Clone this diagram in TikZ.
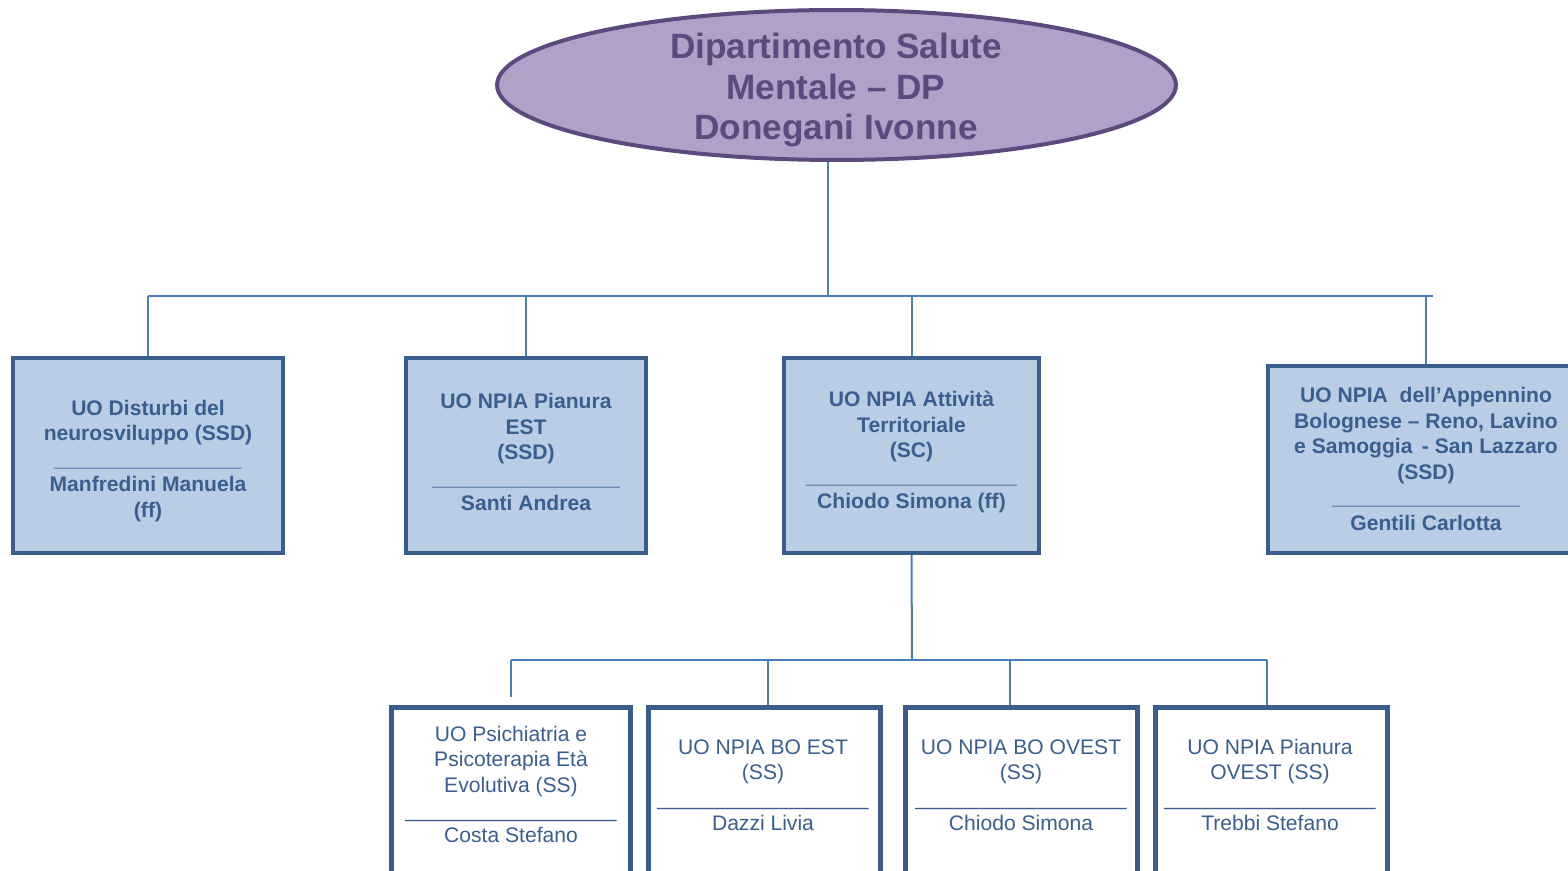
\documentclass[tikz,border=0pt]{standalone}
\usepackage{fontspec}
\setmainfont{Liberation Sans}
\usetikzlibrary{shapes.geometric,positioning}
\definecolor{dsmfill}{HTML}{B1A0C7}
\definecolor{dsmline}{HTML}{5C4A7E}
\definecolor{unitfill}{HTML}{B9CDE5}
\definecolor{unitline}{HTML}{3A5D8B}
\definecolor{unittext}{HTML}{3A5F8F}
\definecolor{connline}{HTML}{4A7EBB}
\tikzset{
  conn/.style={draw, connline, line width=0.04cm},
}
\newcommand{\sepsix}{\_\_\_\_\_\_\_\_\_\_\_\_\_\_\_\_}
\newcommand{\sepeight}{\_\_\_\_\_\_\_\_\_\_\_\_\_\_\_\_\_\_}

\begin{document}
\begin{tikzpicture}[x=0.02cm,y=-0.02cm,
            dept/.style={ellipse,draw=dsmline,fill=dsmfill,line width=0.08cm,minimum width=13.58cm,minimum height=3cm,inner sep=0pt},
            depttext/.style={align=center,text=dsmline,font=\fontsize{20}{23}\selectfont\bfseries},
            unit/.style={rectangle,draw=unitline,fill=unitfill,line width=0.09cm,minimum height=3.9cm},
            unittext/.style={align=center,text=unittext,font=\fontsize{12}{14.5}\selectfont\bfseries},
            subunit/.style={rectangle,draw=unitline,fill=white,line width=0.1cm,minimum width=4.66cm,minimum height=4cm},
            subtext/.style={align=center,text=unittext,font=\fontsize{12}{14.5}\selectfont}]
            \useasboundingbox (0,0) rectangle (1568,871);

            % department
            \node[dept] (dsm) at (836.5,85) {};
            \node[depttext] (dsmt) at (836,90) {Dipartimento Salute\\Mentale – DP\\Donegani Ivonne};

            % first level units
            \node[unit,minimum width=5.4cm] (ssd1) at (148,455.5) {};
            \node[unit,minimum width=4.8cm] (ssd2) at (526,455.5) {};
            \node[unit,minimum width=5.1cm] (sc) at (911.5,455.5) {};
            \node[unit,minimum width=6.32cm,minimum height=3.74cm] (ssd3) at (1426,459.5) {};
            \node[unittext] (ssd1t) at (148,461) {UO Disturbi del\\neurosviluppo (SSD)\\\sepsix\\Manfredini Manuela\\(ff)};
            \node[unittext] (ssd2t) at (526,452) {UO NPIA Pianura\\EST\\(SSD)\\\sepsix\\Santi Andrea};
            \node[unittext] (sct) at (911.5,452) {UO NPIA Attività\\Territoriale\\(SC)\\\sepeight\\Chiodo Simona (ff)};
            \node[unittext] (ssd3t) at (1426,459) {UO NPIA\ \ dell’Appennino\\Bolognese – Reno, Lavino\\e Samoggia\ \,- San Lazzaro\\(SSD)\\\sepsix\\Gentili Carlotta};

            % second level units
            \node[subunit,minimum width=4.8cm] (ss1) at (511,807) {};
            \node[subunit] (ss2) at (764.5,807) {};
            \node[subunit] (ss3) at (1021.5,807) {};
            \node[subunit] (ss4) at (1271.5,807) {};
            \node[subtext] (ss1t) at (511,784.5) {UO Psichiatria e\\Psicoterapia Età\\Evolutiva (SS)\\\sepeight\\Costa Stefano};
            \node[subtext] (ss2t) at (763,785) {UO NPIA BO EST\\(SS)\\\sepeight\\Dazzi Livia};
            \node[subtext] (ss3t) at (1021,785) {UO NPIA BO OVEST\\(SS)\\\sepeight\\Chiodo Simona};
            \node[subtext] (ss4t) at (1270,785) {UO NPIA Pianura\\OVEST (SS)\\\sepeight\\Trebbi Stefano};

            % connectors
            \coordinate (hub) at (828,296);
            \coordinate (busW) at (148,296);
            \coordinate (busE) at (1433,296);
            \draw[conn] (hub |- dsm.south) -- (hub);
            \draw[conn] (busW) -- (busE);
            \draw[conn] (busW) -- (ssd1.north);
            \draw[conn] (ssd2.north |- busW) -- (ssd2.north);
            \draw[conn] (sc.north |- busW) -- (sc.north);
            \draw[conn] (ssd3.north |- busW) -- (ssd3.north);

            \coordinate (hub2) at (912,660);
            \coordinate (sub1) at (511,660);
            \coordinate (sub1end) at (511,697);
            \draw[conn] (sc.south) -- (hub2);
            \draw[conn] (sub1) -- (1267,660);
            \draw[conn] (sub1) -- (sub1end);
            \draw[conn] ([xshift=0.07cm]ss2.north |- sub1) -- ([xshift=0.07cm]ss2.north);
            \draw[conn] ([xshift=-0.23cm]ss3.north |- sub1) -- ([xshift=-0.23cm]ss3.north);
            \draw[conn] ([xshift=-0.09cm]ss4.north |- sub1) -- ([xshift=-0.09cm]ss4.north);
\end{tikzpicture}
\end{document}
